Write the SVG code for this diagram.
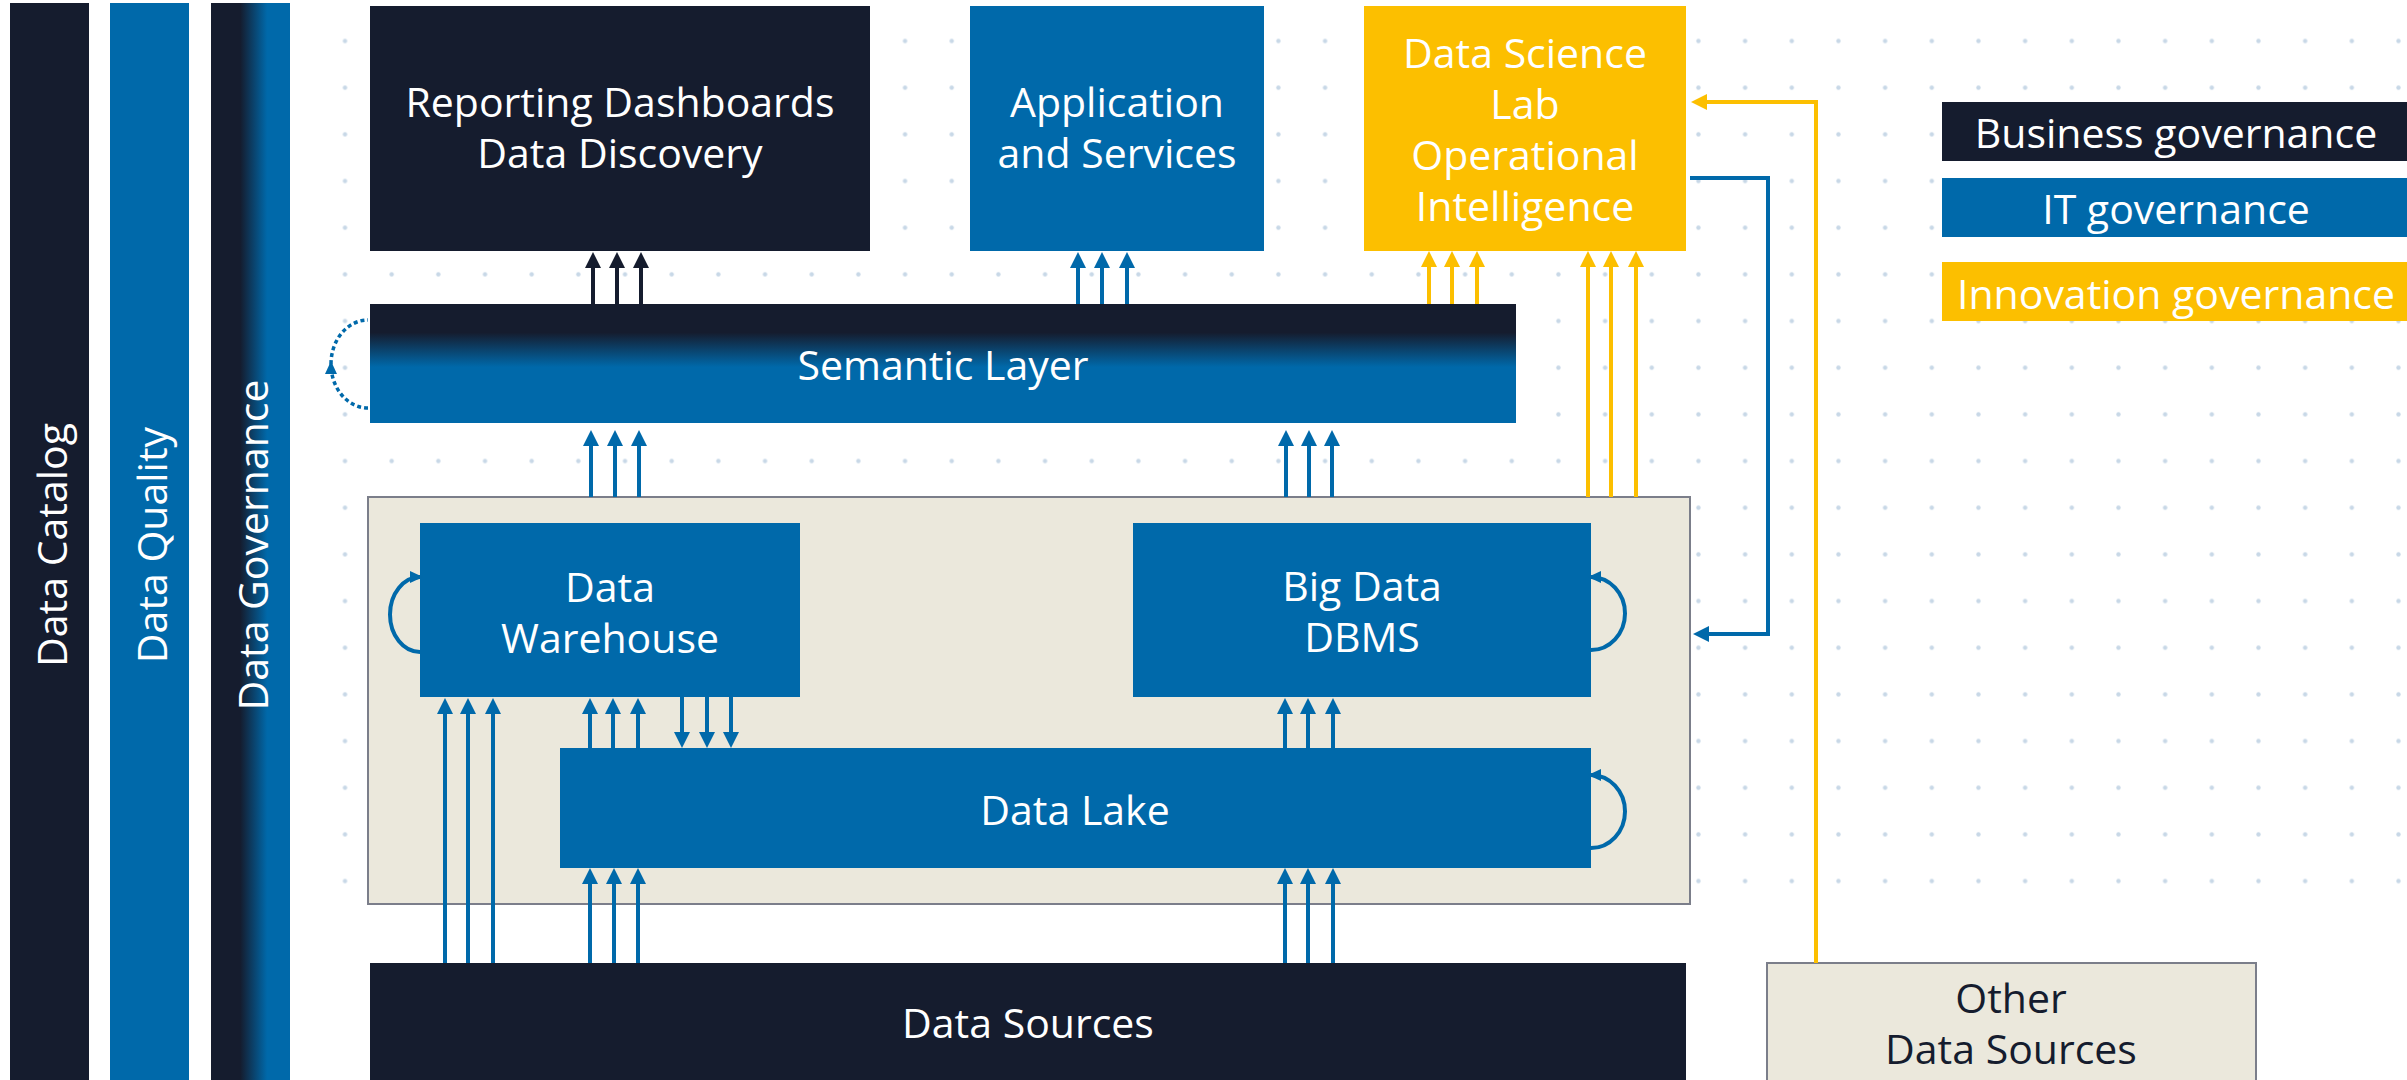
<svg xmlns="http://www.w3.org/2000/svg" width="2407" height="1080" viewBox="0 0 2407 1080">
<defs>
<style>
text{font-family:"Open Sans","Noto Sans",sans-serif;font-size:41px;fill:#ffffff;text-anchor:middle}
text.dk{fill:#151c2e}
.dark{fill:#151c2e}
.blue{fill:#0069aa}
.yel{fill:#fcbf00}
.cont{fill:#ebe8dc;stroke:#7b7e8a;stroke-width:2}
.c{fill:none;stroke-width:4}
.cb{stroke:#0069aa}
.cd{stroke:#151c2e}
.cy{stroke:#fcbf00}
.dash{fill:none;stroke:#0069aa;stroke-width:3.5;stroke-dasharray:4 3}
</style>
<pattern id="dots" x="321.67" y="17.67" width="46.67" height="46.67" patternUnits="userSpaceOnUse"><circle cx="23.33" cy="23.33" r="2.2" fill="#c8d8e7"/></pattern>
<linearGradient id="gGov" x1="0" y1="0" x2="1" y2="0"><stop offset="0.37" stop-color="#151c2e"/><stop offset="0.71" stop-color="#0069aa"/></linearGradient>
<linearGradient id="gSem" x1="0" y1="0" x2="0" y2="1"><stop offset="0.24" stop-color="#151c2e"/><stop offset="0.53" stop-color="#0069aa"/></linearGradient>
<marker id="aB" markerUnits="userSpaceOnUse" markerWidth="16" markerHeight="16" refX="8" refY="8" orient="auto"><path d="M0,0 L16,8 L0,16 z" fill="#0069aa"/></marker>
<marker id="aD" markerUnits="userSpaceOnUse" markerWidth="16" markerHeight="16" refX="8" refY="8" orient="auto"><path d="M0,0 L16,8 L0,16 z" fill="#151c2e"/></marker>
<marker id="aY" markerUnits="userSpaceOnUse" markerWidth="16" markerHeight="16" refX="8" refY="8" orient="auto"><path d="M0,0 L16,8 L0,16 z" fill="#fcbf00"/></marker>
<marker id="lB" markerUnits="userSpaceOnUse" markerWidth="14" markerHeight="14" refX="10" refY="6" orient="auto"><path d="M0,0 L13,6 L0,12 z" fill="#0069aa"/></marker>
</defs>
<rect width="2407" height="1080" fill="#ffffff"/>
<rect x="321.67" y="17.67" width="2085.33" height="886.66" fill="url(#dots)"/>

<g id="data-catalog"><rect class="dark" x="10" y="3" width="79" height="1077"/><text transform="translate(67,545) rotate(-90)">Data Catalog</text></g>
<g id="data-quality"><rect class="blue" x="110" y="3" width="79" height="1077"/><text transform="translate(167,545) rotate(-90)">Data Quality</text></g>
<g id="data-governance"><rect fill="url(#gGov)" x="211" y="3" width="79" height="1077"/><text transform="translate(268,545) rotate(-90)">Data Governance</text></g>

<g id="reporting"><rect class="dark" x="370" y="6" width="500" height="245"/><text x="620" y="117">Reporting Dashboards<tspan x="620" dy="51">Data Discovery</tspan></text></g>
<g id="application"><rect class="blue" x="970" y="6" width="294" height="245"/><text x="1117" y="117">Application<tspan x="1117" dy="51">and Services</tspan></text></g>
<g id="data-science"><rect class="yel" x="1364" y="6" width="322" height="245"/><text x="1525" y="68">Data Science<tspan x="1525" dy="51">Lab</tspan><tspan x="1525" dy="51">Operational</tspan><tspan x="1525" dy="51">Intelligence</tspan></text></g>

<g id="semantic-layer"><rect fill="url(#gSem)" x="370" y="304" width="1146" height="119"/><text x="943" y="380">Semantic Layer</text></g>

<g id="platform"><rect class="cont" x="368" y="497" width="1322" height="407"/></g>
<g id="data-warehouse"><rect class="blue" x="420" y="523" width="380" height="174"/><text x="610" y="602">Data<tspan x="610" dy="51">Warehouse</tspan></text></g>
<g id="big-data"><rect class="blue" x="1133" y="523" width="458" height="174"/><text x="1362" y="601">Big Data<tspan x="1362" dy="51">DBMS</tspan></text></g>
<g id="data-lake"><rect class="blue" x="560" y="748" width="1031" height="120"/><text x="1075" y="825">Data Lake</text></g>

<g id="data-sources"><rect class="dark" x="370" y="963" width="1316" height="117"/><text x="1028" y="1038">Data Sources</text></g>
<g id="other-sources"><rect class="cont" x="1767" y="963" width="489" height="130"/><text class="dk" x="2011" y="1013">Other<tspan x="2011" dy="51">Data Sources</tspan></text></g>

<g id="legend-business"><rect class="dark" x="1942" y="102" width="470" height="59"/><text x="2176" y="148">Business governance</text></g>
<g id="legend-it"><rect class="blue" x="1942" y="178" width="470" height="59"/><text x="2176" y="224">IT governance</text></g>
<g id="legend-innovation"><rect class="yel" x="1942" y="262" width="470" height="59"/><text x="2176" y="309">Innovation governance</text></g>

<g id="connectors">
<path class="c cd" marker-end="url(#aD)" d="M593 304V260"/>
<path class="c cd" marker-end="url(#aD)" d="M617 304V260"/>
<path class="c cd" marker-end="url(#aD)" d="M641 304V260"/>
<path class="c cb" marker-end="url(#aB)" d="M1078 304V260"/>
<path class="c cb" marker-end="url(#aB)" d="M1102 304V260"/>
<path class="c cb" marker-end="url(#aB)" d="M1127 304V260"/>
<path class="c cy" marker-end="url(#aY)" d="M1429 304V259"/>
<path class="c cy" marker-end="url(#aY)" d="M1452 304V259"/>
<path class="c cy" marker-end="url(#aY)" d="M1477 304V259"/>
<path class="c cb" marker-end="url(#aB)" d="M591 497V438"/>
<path class="c cb" marker-end="url(#aB)" d="M615 497V438"/>
<path class="c cb" marker-end="url(#aB)" d="M639 497V438"/>
<path class="c cb" marker-end="url(#aB)" d="M1286 497V438"/>
<path class="c cb" marker-end="url(#aB)" d="M1309 497V438"/>
<path class="c cb" marker-end="url(#aB)" d="M1332 497V438"/>
<path class="c cy" marker-end="url(#aY)" d="M1588 497V259"/>
<path class="c cy" marker-end="url(#aY)" d="M1611 497V259"/>
<path class="c cy" marker-end="url(#aY)" d="M1636 497V259"/>
<path class="c cb" marker-end="url(#aB)" d="M445 963V706"/>
<path class="c cb" marker-end="url(#aB)" d="M468 963V706"/>
<path class="c cb" marker-end="url(#aB)" d="M493 963V706"/>
<path class="c cb" marker-end="url(#aB)" d="M590 748V706"/>
<path class="c cb" marker-end="url(#aB)" d="M613 748V706"/>
<path class="c cb" marker-end="url(#aB)" d="M638 748V706"/>
<path class="c cb" marker-end="url(#aB)" d="M682 697V740"/>
<path class="c cb" marker-end="url(#aB)" d="M707 697V740"/>
<path class="c cb" marker-end="url(#aB)" d="M731 697V740"/>
<path class="c cb" marker-end="url(#aB)" d="M590 963V876"/>
<path class="c cb" marker-end="url(#aB)" d="M614 963V876"/>
<path class="c cb" marker-end="url(#aB)" d="M638 963V876"/>
<path class="c cb" marker-end="url(#aB)" d="M1285 748V706"/>
<path class="c cb" marker-end="url(#aB)" d="M1308 748V706"/>
<path class="c cb" marker-end="url(#aB)" d="M1333 748V706"/>
<path class="c cb" marker-end="url(#aB)" d="M1285 963V876"/>
<path class="c cb" marker-end="url(#aB)" d="M1308 963V876"/>
<path class="c cb" marker-end="url(#aB)" d="M1333 963V876"/>
<path class="c cy" marker-end="url(#aY)" d="M1816 963V102H1699"/>
<path class="c cb" marker-end="url(#aB)" d="M1690 178H1768V634H1701"/>
<path class="c cb" marker-end="url(#lB)" d="M420 652A30 37.5 0 0 1 420 577"/>
<path class="c cb" marker-end="url(#lB)" d="M1591 650A34 36.5 0 0 0 1591 577"/>
<path class="c cb" marker-end="url(#lB)" d="M1591 848A34 36.5 0 0 0 1591 775"/>
<path class="dash" marker-end="url(#lB)" d="M368 408A37 44 0 0 1 331 364"/>
<path class="dash" d="M331 364A37 44 0 0 1 368 320"/>
</g>
</svg>
